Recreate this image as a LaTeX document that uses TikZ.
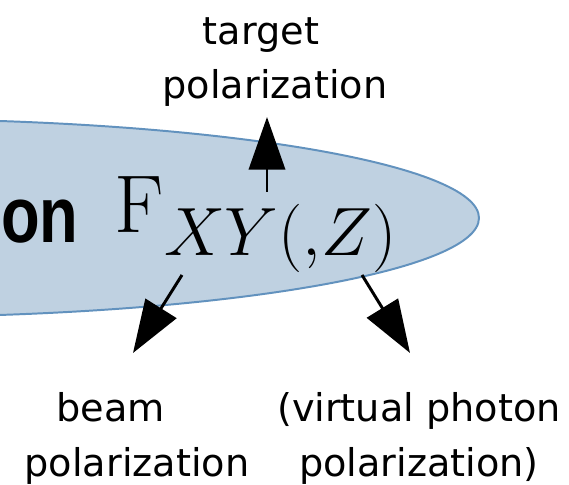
\documentclass[tikz,border=0pt]{standalone}
\usepackage{fontspec}
\usepackage{tikz}
\usetikzlibrary{arrows.meta}

\newfontfamily\labelfont{DejaVu Sans}
\newfontfamily\onfont{Liberation Sans}
\definecolor{ellfill}{RGB}{191,209,225}
\definecolor{elldraw}{RGB}{98,146,190}

\begin{document}
\begin{tikzpicture}[x=0.01067cm,y=0.01067cm,
    pol/.style={font=\labelfont\fontsize{11.6}{16.5}\selectfont,
      align=center, inner sep=0pt, anchor=north},
    pointer/.style={line width=0.9pt, -{Triangle[length=16pt,width=11pt]}}]
  \useasboundingbox (0,0) rectangle (569,485);
  \clip (0,0) rectangle (569,485);

  % shaded ellipse, cut off at the left
  \fill[ellfill, draw=elldraw, line width=0.6pt] (-121,267) ellipse (600 and 99);

  \node[anchor=base east, inner sep=0pt,
    font=\onfont\bfseries\fontsize{24}{28}\selectfont] (on) at (79,242)
    {\scalebox{0.8}[1]{on}};
  \node[anchor=base west, inner sep=0pt, font=\Huge] (F) at (114,252)
    {$\mathrm{F}_{XY(,Z)}$};

  % labels
  \node[pol] (target) at (275,468) {target\hspace*{8.5pt}\\polarization};
  \node[pol] (beam) at (137,93) {beam\hspace*{16pt}\\polarization};
  \node[pol] (photon) at (419,93) {(virtual photon\\polarization)};

  % arrow ends
  \coordinate (t0) at (267,293);
  \coordinate (t1) at (267,368);
  \coordinate (b0) at (182,210);
  \coordinate (b1) at (133,132);
  \coordinate (v0) at (362,210);
  \coordinate (v1) at (410,132);

  \draw[pointer] (t0) -- (t1);
  \draw[pointer] (b0) -- (b1);
  \draw[pointer] (v0) -- (v1);
\end{tikzpicture}
\end{document}
